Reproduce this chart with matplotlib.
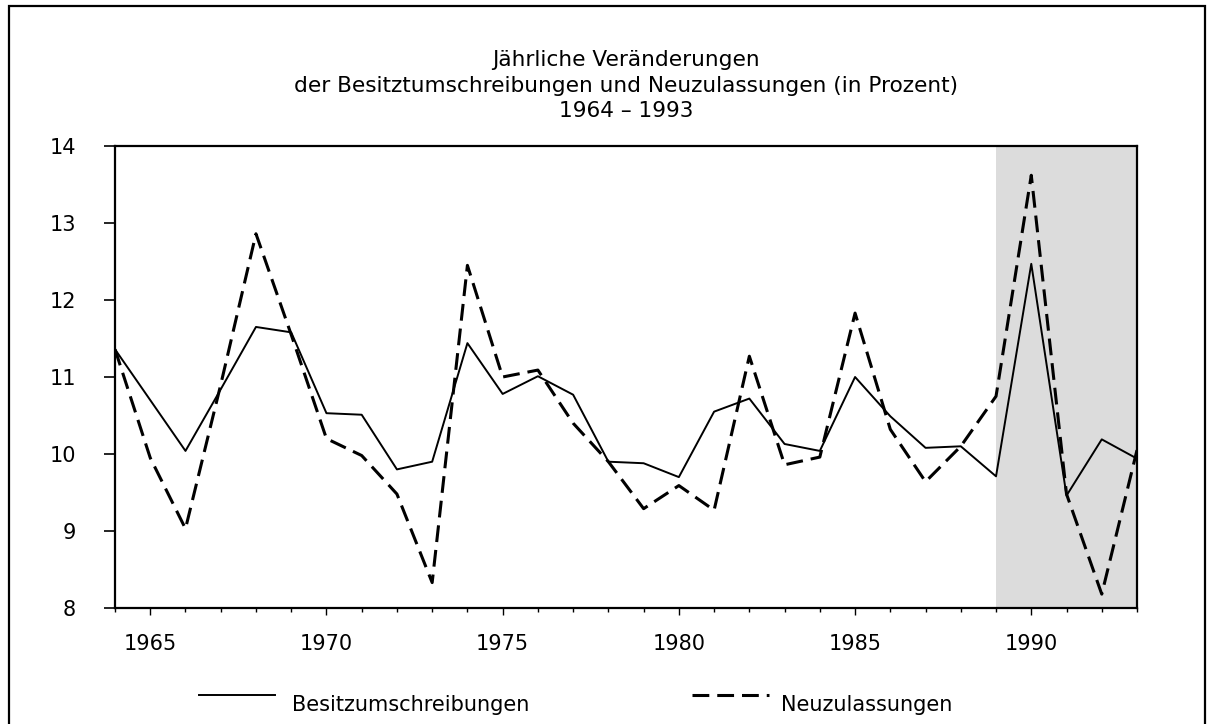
#!/usr/bin/env python3
"""Jaehrliche Veraenderungen der Besitzumschreibungen und Neuzulassungen, 1964-1993."""

import matplotlib
matplotlib.use("Agg")
import matplotlib.pyplot as plt
from matplotlib.lines import Line2D
from matplotlib.patches import Rectangle


YEARS = list(range(1964, 1994))
BESITZ = [11.36, 10.70, 10.04, 10.84, 11.65, 11.58, 10.53, 10.51, 9.80, 9.90,
          11.44, 10.78, 11.01, 10.77, 9.90, 9.88, 9.70, 10.55, 10.72, 10.13,
          10.04, 11.00, 10.49, 10.08, 10.10, 9.71, 12.47, 9.46, 10.19, 9.94]
NEU = [11.36, 9.95, 9.03, 10.90, 12.86, 11.55, 10.20, 9.98, 9.48, 8.33,
       12.45, 11.00, 11.09, 10.40, 9.90, 9.29, 9.59, 9.27, 11.27, 9.86,
       9.96, 11.83, 10.32, 9.64, 10.10, 10.75, 13.62, 9.48, 8.18, 10.05]
SHADE_SPAN = (1989, 1993)
Y_TICKS = [8, 9, 10, 11, 12, 13, 14]
X_LABELED = [1965, 1970, 1975, 1980, 1985, 1990]
TITLE_LINES = [
    "Jährliche Veränderungen",
    "der Besitztumschreibungen und Neuzulassungen (in Prozent)",
    "1964 – 1993",
]
LEGEND_LABELS = ["Besitzumschreibungen", "Neuzulassungen"]

W, H = 1212, 724
FS = 15
DASHES = (5.5, 2.6)


def fx(px):
    return px / W


def fy(py):
    return 1 - py / H


fig = plt.figure(figsize=(W / 100, H / 100), dpi=100)
fig.patch.set_facecolor("white")

# outer frame, bottom edge runs off the picture
fig.add_artist(Rectangle((fx(9), fy(H + 20)), fx(1205) - fx(9), fy(6) - fy(H + 20),
                         transform=fig.transFigure, fill=False,
                         edgecolor="black", linewidth=1.6))

ax = fig.add_axes([fx(115), fy(608), fx(1137) - fx(115), fy(146) - fy(608)])
ax.axvspan(*SHADE_SPAN, color="#dcdcdc", linewidth=0, zorder=0)
ax.plot(YEARS, BESITZ, color="black", linewidth=1.4, zorder=3)
ax.plot(YEARS, NEU, color="black", linewidth=2.2, dashes=DASHES, zorder=3)

ax.set_xlim(1964, 1993)
ax.set_ylim(8, 14)
ax.set_yticks(Y_TICKS)
ax.set_xticks(X_LABELED)
ax.set_xticks(YEARS, minor=True)
ax.tick_params(axis="y", direction="out", length=8, width=1.2, pad=20, labelsize=FS)
ax.tick_params(axis="x", which="major", direction="out", length=5, width=1.0,
               pad=14, labelsize=FS)
ax.tick_params(axis="x", which="minor", direction="out", length=3.2, width=1.0)
for spine in ax.spines.values():
    spine.set_linewidth(1.6)

title_y = [60, 86, 111]
for line, py in zip(TITLE_LINES, title_y):
    fig.text(fx(626), fy(py), line, ha="center", va="center", fontsize=15.6)

# legend drawn by hand along the bottom
fig.add_artist(Line2D([fx(199), fx(275)], [fy(695), fy(695)],
                      transform=fig.transFigure, color="black", linewidth=1.4))
fig.text(fx(292), fy(705), LEGEND_LABELS[0], ha="left", va="center", fontsize=FS)
fig.add_artist(Line2D([fx(692), fx(769)], [fy(695), fy(695)],
                      transform=fig.transFigure, color="black", linewidth=2.2,
                      dashes=DASHES))
fig.text(fx(781), fy(705), LEGEND_LABELS[1], ha="left", va="center", fontsize=FS)

fig.savefig("out.png", dpi=100)
